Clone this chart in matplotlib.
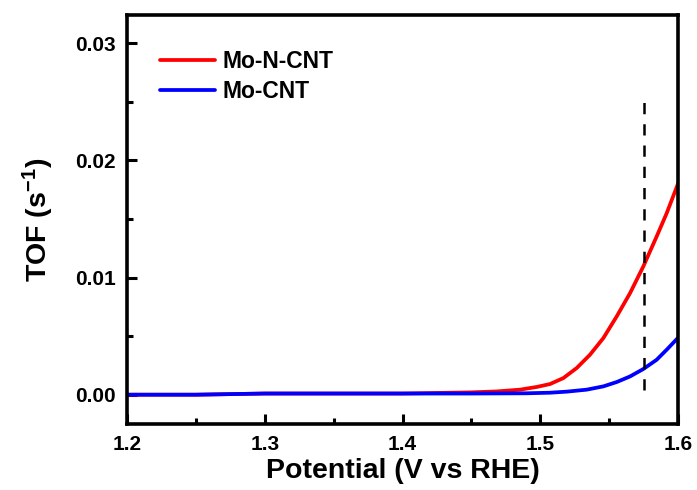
import numpy as np
import matplotlib
matplotlib.use('Agg')
import matplotlib.pyplot as plt
from matplotlib.ticker import MultipleLocator, FormatStrFormatter

# values
potential_n = [1.20, 1.25, 1.30, 1.35, 1.40, 1.45, 1.4684, 1.4853, 1.4974, 1.5071, 1.5168,
               1.5265, 1.5361, 1.5458, 1.5555, 1.5652, 1.5748, 1.5845, 1.5918, 1.600]
tof_mo_n_cnt = [0.0000, 0.0000, 0.0001, 0.0001, 0.0001, 0.0002, 0.00028, 0.00043, 0.00066,
                0.00091, 0.00142, 0.00228, 0.00341, 0.00483, 0.00668, 0.00867, 0.01094,
                0.01350, 0.01549, 0.0180]
potential_c = [1.20, 1.25, 1.30, 1.35, 1.40, 1.45, 1.49, 1.5071, 1.5192, 1.5337, 1.5458,
               1.5555, 1.5652, 1.5748, 1.5845, 1.5918, 1.600]
tof_mo_cnt = [0.0000, 0.0000, 0.0001, 0.0001, 0.0001, 0.0001, 0.00012, 0.00017, 0.00026,
              0.00043, 0.00071, 0.00108, 0.00156, 0.00219, 0.00298, 0.00384, 0.00485]
marker_potential = 1.575
marker_span = [0.0004, 0.0252]

plt.rcParams['font.family'] = ['Liberation Sans', 'DejaVu Sans']
plt.rcParams['font.weight'] = 'bold'
plt.rcParams['mathtext.default'] = 'regular'

fig = plt.figure(figsize=(6.97, 4.9), dpi=100)
ax = fig.add_axes([127 / 697, 66 / 490, 551 / 697, 409 / 490])

ax.plot(potential_n, tof_mo_n_cnt, color='#ff0000', lw=2.7, label='Mo-N-CNT',
        solid_capstyle='round')
ax.plot(potential_c, tof_mo_cnt, color='#0000ff', lw=2.7, label='Mo-CNT',
        solid_capstyle='round')
ax.plot([marker_potential, marker_potential], marker_span, color='black',
        lw=1.8, dashes=(4.5, 4))

ax.set_xlim(1.2, 1.6)
ax.set_ylim(-0.0025, 0.0324)
ax.xaxis.set_major_locator(MultipleLocator(0.1))
ax.xaxis.set_minor_locator(MultipleLocator(0.05))
ax.yaxis.set_major_locator(MultipleLocator(0.01))
ax.yaxis.set_minor_locator(MultipleLocator(0.005))
ax.xaxis.set_major_formatter(FormatStrFormatter('%.1f'))
ax.yaxis.set_major_formatter(FormatStrFormatter('%.2f'))
ax.tick_params(which='major', direction='in', length=7, width=2.2, labelsize=15, pad=8)
ax.tick_params(which='minor', direction='in', length=4, width=2.2)
for s in ax.spines.values():
    s.set_linewidth(2.6)

ax.set_xlabel('Potential (V vs RHE)', fontsize=20.5, fontweight='bold', labelpad=3)
ax.set_ylabel('TOF (s$^{-1}$)', fontsize=20.5, fontweight='bold', labelpad=14)

leg = ax.legend(loc='upper left', bbox_to_anchor=(0.022, 0.965), frameon=False,
                fontsize=16.5, handlelength=2.4, handletextpad=0.35, labelspacing=0.3)

fig.savefig('out.png', dpi=100)
